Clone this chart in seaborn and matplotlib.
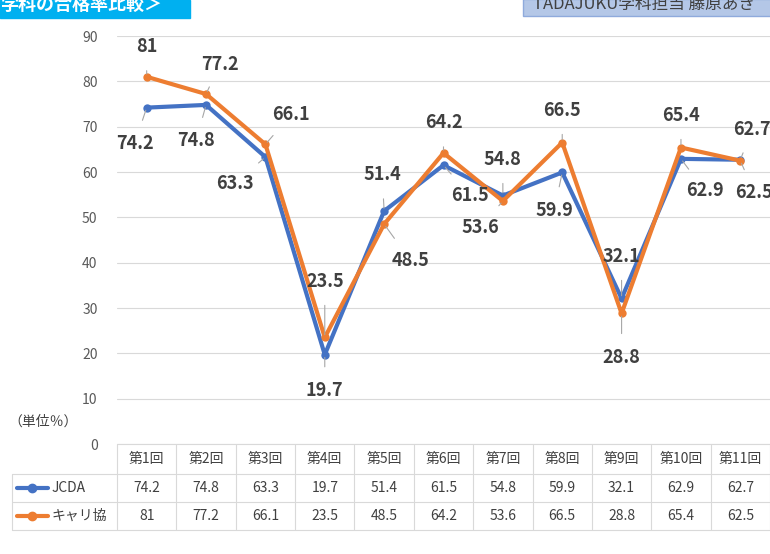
import numpy as np
import matplotlib.pyplot as plt
import matplotlib.transforms as mtransforms
import seaborn as sns

rounds = ['第1回', '第2回', '第3回', '第4回', '第5回', '第6回', '第7回', '第8回', '第9回', '第10回', '第11回']
jcda = [74.2, 74.8, 63.3, 19.7, 51.4, 61.5, 54.8, 59.9, 32.1, 62.9, 62.7]
kyari = [81, 77.2, 66.1, 23.5, 48.5, 64.2, 53.6, 66.5, 28.8, 65.4, 62.5]
series_names = ['JCDA', 'キャリ協']

# ラベル位置のオフセット（ピクセル）
off_j = [(-12, -36), (-10, -36), (-30, -26), (0, -36), (-2, 36), (26, -30), (0, 36), (-8, -38), (0, 42), (24, -32), (12, 30)]
off_k = [(0, 30), (14, 30), (26, 30), (0, 56), (26, -36), (0, 30), (-22, -26), (0, 32), (0, -44), (0, 32), (14, -32)]

sns.set_style('white')
plt.rcParams['font.family'] = ['Noto Sans CJK JP', 'DejaVu Sans']

fig = plt.figure(figsize=(7.7, 5.54), dpi=100)
ax = fig.add_axes([117 / 770, 1 - 444 / 554, 653 / 770, 408 / 554])

x = np.arange(len(rounds))
blue, orange = '#4472C4', '#ED7D31'
sns.lineplot(x=x, y=jcda, ax=ax, color=blue, lw=3, marker='o', markersize=6, markeredgewidth=0)
sns.lineplot(x=x, y=kyari, ax=ax, color=orange, lw=3, marker='o', markersize=6, markeredgewidth=0)

for vals, offs in [(jcda, off_j), (kyari, off_k)]:
    for xi, v, o in zip(x, vals, offs):
        ax.annotate(f'{v:g}', (xi, v), xytext=o, textcoords='offset pixels',
                    ha='center', va='center', fontsize=13, fontweight='bold', color='#404040',
                    arrowprops=dict(arrowstyle='-', color='#a6a6a6', lw=0.8, shrinkA=8, shrinkB=2))

ax.set_xlim(-0.5, len(rounds) - 0.5)
ax.set_ylim(0, 90)
ax.set_yticks(range(0, 91, 10))
ax.tick_params(axis='y', labelsize=10, colors='#595959', length=0, pad=14)
ax.set_xticks([])
ax.grid(axis='y', color='#d9d9d9', lw=0.8)
for s in ax.spines.values():
    s.set_visible(False)

# 表（x はデータ座標、y は軸座標）
trans = mtransforms.blended_transform_factory(ax.transData, ax.transAxes)
rows_y = [0, -30 / 408, -58 / 408, -86 / 408]
left_x = -0.5 - 105 / 59.4
lc = '#d9d9d9'
kw = dict(transform=trans, clip_on=False, color=lc, lw=0.8)
ax.plot([-0.5, 10.5], [rows_y[0]] * 2, **kw)
for yy in rows_y[1:]:
    ax.plot([left_x, 10.5], [yy] * 2, **kw)
for xb in np.arange(-0.5, 11, 1.0):
    ax.plot([xb, xb], [rows_y[0], rows_y[3]], **kw)
ax.plot([left_x, left_x], [rows_y[1], rows_y[3]], **kw)

tk = dict(transform=trans, ha='center', va='center', fontsize=10, color='#404040', clip_on=False)
for xi, r in zip(x, rounds):
    ax.text(xi, (rows_y[0] + rows_y[1]) / 2, r, **tk)
for ri, (vals, name, col) in enumerate([(jcda, series_names[0], blue), (kyari, series_names[1], orange)]):
    yc = (rows_y[ri + 1] + rows_y[ri + 2]) / 2
    for xi, v in zip(x, vals):
        ax.text(xi, yc, f'{v:g}', **tk)
    ax.plot([left_x + 0.08, left_x + 0.6], [yc, yc], color=col, lw=3, transform=trans, clip_on=False)
    ax.plot([left_x + 0.34], [yc], color=col, marker='o', markersize=6, transform=trans, clip_on=False)
    ax.text(left_x + 0.66, yc, name, transform=trans, ha='left', va='center', fontsize=10,
            color='#404040', clip_on=False)

fig.text(8 / 770, 1 - 422 / 554, '（単位％）', fontsize=10, color='#404040', va='center')

# ヘッダー（上端で切れている）
fig.patches.append(plt.Rectangle((0, 1 - 18 / 554), 190 / 770, 18 / 554, transform=fig.transFigure,
                                 color='#00B0F0', zorder=0))
fig.text(0, 1 - 4 / 554, '学科の合格率比較＞', fontsize=13, fontweight='bold', color='white', va='center')
fig.patches.append(plt.Rectangle((523 / 770, 1 - 16 / 554), 250 / 770, 17 / 554, transform=fig.transFigure,
                                 facecolor='#B4C7E7', edgecolor='#8faadc', zorder=0))
fig.text(533 / 770, 1 - 4 / 554, 'TADAJUKU学科担当 藤原あき', fontsize=12, color='#404040', va='center')

fig.savefig('out.png', dpi=100)
